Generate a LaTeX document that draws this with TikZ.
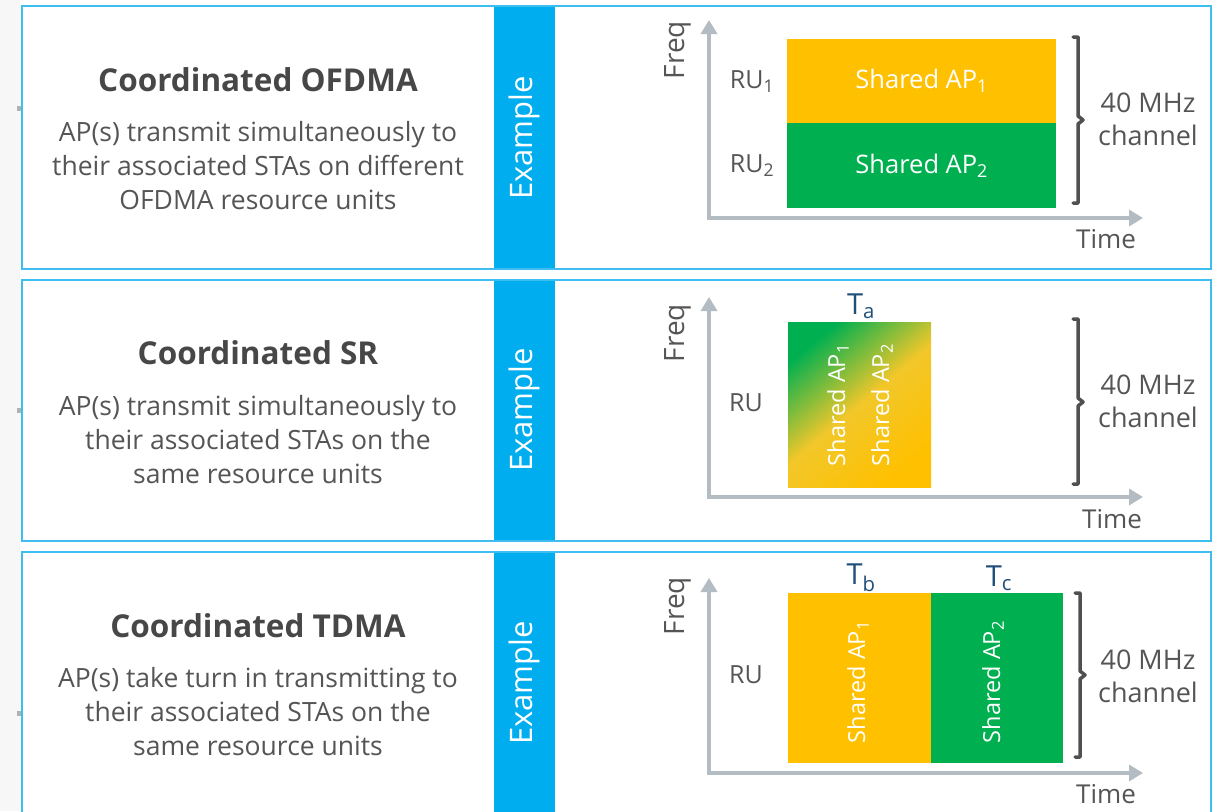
\documentclass[tikz,border=0pt]{standalone}
\usepackage{fontspec}
\setmainfont{Open Sans}
\usetikzlibrary{arrows.meta,shadings}
\definecolor{pblue}{HTML}{3DBDF0}
\definecolor{exblue}{HTML}{00AEEF}
\definecolor{ysh}{HTML}{FFC000}
\definecolor{gsh}{HTML}{00B050}
\definecolor{axgray}{HTML}{B3BCC2}
\definecolor{bracegray}{HTML}{505050}
\definecolor{titlegray}{HTML}{474747}
\definecolor{bodygray}{HTML}{555555}
\definecolor{tblue}{HTML}{1F4E79}
\definecolor{midy}{HTML}{F2C72A}
\tikzset{
  panel/.style={draw=pblue, line width=1.8pt},
  exbar/.style={fill=exblue, draw=none},
  extext/.style={text=white, rotate=90, font=\fontsize{31}{36}\selectfont},
  ttl/.style={text=titlegray, font=\bfseries\fontsize{31.5}{36}\selectfont},
  bodytext/.style={text=bodygray, align=center, font=\fontsize{26.5}{34}\selectfont},
  axisline/.style={draw=axgray, line width=4.5pt, line join=miter,
    {Triangle[length=14pt,width=16pt]}-{Triangle[length=14pt,width=16pt]}},
  lbl/.style={text=bodygray, font=\fontsize{25}{28}\selectfont},
  tmlbl/.style={text=bodygray, font=\fontsize{26}{30}\selectfont},
  bigl/.style={text=bodygray, align=center, font=\fontsize{27}{33}\selectfont},
  flbl/.style={text=bodygray, rotate=90, font=\fontsize{28}{30}\selectfont},
  shbox/.style={draw=none, text=white, inner sep=0pt, anchor=north west, font=\fontsize{25.5}{28}\selectfont},
  vtext/.style={text=white, rotate=90, font=\fontsize{23.5}{26}\selectfont},
  tlbl/.style={text=tblue, font=\fontsize{29}{32}\selectfont},
  bracket/.style={draw=bracegray, line width=3.5pt, line join=round, line cap=round},
  tick/.style={fill=gray!60, draw=none},
}
\begin{document}
\begin{tikzpicture}[x=1pt,y=-1pt]
\useasboundingbox (0,0) rectangle (1220,811);
\clip (0,0) rectangle (1220,811);
\fill[white] (0,0) rectangle (1220,811);
\fill[black!3] (0,0) rectangle (20,811);
% small ticks at left
\fill[tick] (17,106) rectangle (22,111);
\fill[tick] (17,408) rectangle (22,413);
\fill[tick] (17,711) rectangle (22,716);

% ---------- panels ----------
\fill[white] (22,6) rectangle (1211,269);
\fill[white] (22,280) rectangle (1211,541);
\fill[white] (22,552) rectangle (1211,830);
\fill[exbar] (494,7) rectangle (555,268);
\fill[exbar] (494,281) rectangle (555,540);
\fill[exbar] (494,553) rectangle (555,830);
\draw[panel] (22,6) rectangle (1211,269);
\draw[panel] (22,280) rectangle (1211,541);
\draw[panel] (22,552) rectangle (1211,830);

\node[extext] (ex1) at (524,138) {Example};
\node[extext] (ex2) at (524,410) {Example};
\node[extext] (ex3) at (524,683) {Example};

% ---------- panel 1 text ----------
\node[ttl] (t1) at (258,80) {Coordinated OFDMA};
\node[bodytext] (b1) at (258,166) {AP(s) transmit simultaneously to\\their associated STAs on different\\OFDMA resource units};
% ---------- panel 2 text ----------
\node[ttl] (t2) at (258,353) {Coordinated SR};
\node[bodytext] (b2) at (258,440) {AP(s) transmit simultaneously to\\their associated STAs on the\\same resource units};
% ---------- panel 3 text ----------
\node[ttl] (t3) at (258,626) {Coordinated TDMA};
\node[bodytext] (b3) at (258,712) {AP(s) take turn in transmitting to\\their associated STAs on the\\same resource units};

% ---------- chart 1 ----------
\coordinate (yt1) at (709,20);
\coordinate (o1) at (709,218);
\coordinate (xt1) at (1143,218);
\draw[axisline] (yt1) -- (o1) -- (xt1);
\node[flbl] (fq1) at (678,50) {Freq};
\node[shbox, fill=ysh, minimum width=269pt, minimum height=84pt] (a11) at (787,39) {Shared AP\textsubscript{1}};
\node[shbox, fill=gsh, minimum width=269pt, minimum height=85pt] (a12) at (787,123) {Shared AP\textsubscript{2}};
\node[lbl] (ru11) at (752,82) {RU\textsubscript{1}};
\node[lbl] (ru12) at (752,166) {RU\textsubscript{2}};
\draw[bracket] (1073,37) -- (1078,37) -- (1078,116) -- (1083,120) -- (1078,124) -- (1078,203) -- (1073,203);
\node[bigl] (mhz1) at (1148,119) {40 MHz\\channel};
\node[tmlbl] (tm1) at (1106,239) {Time};

% ---------- chart 2 ----------
\coordinate (yt2) at (709,297);
\coordinate (o2) at (709,497);
\coordinate (xt2) at (1143,497);
\draw[axisline] (yt2) -- (o2) -- (xt2);
\node[flbl] (fq2) at (678,333) {Freq};
\shade[top color=gsh, bottom color=ysh, middle color=midy, shading angle=40] (788,322) rectangle (931,487);
\node[draw=none, minimum width=143pt, minimum height=165pt, inner sep=0pt, anchor=north west] (a2) at (788,322) {};
\node[vtext] (a21) at (838,405) {Shared AP\textsubscript{1}};
\node[vtext] (a22) at (882,405) {Shared AP\textsubscript{2}};
\node[tlbl] (ta) at (861,306) {T\textsubscript{a}};
\node[lbl] (ru2) at (746,403) {RU};
\draw[bracket] (1073,319) -- (1078,319) -- (1078,398) -- (1083,402) -- (1078,406) -- (1078,484) -- (1073,484);
\node[bigl] (mhz2) at (1148,401) {40 MHz\\channel};
\node[tmlbl] (tm2) at (1112,519) {Time};

% ---------- chart 3 ----------
\coordinate (yt3) at (709,578);
\coordinate (o3) at (709,773);
\coordinate (xt3) at (1143,773);
\draw[axisline] (yt3) -- (o3) -- (xt3);
\node[flbl] (fq3) at (678,606) {Freq};
\node[shbox, fill=ysh, minimum width=143pt, minimum height=170pt] (a31) at (788,593) {};
\node[shbox, fill=gsh, minimum width=132pt, minimum height=170pt] (a32) at (931,593) {};
\node[vtext] (a31t) at (858,682) {Shared AP\textsubscript{1}};
\node[vtext] (a32t) at (993,682) {Shared AP\textsubscript{2}};
\node[tlbl] (tb) at (861,578) {T\textsubscript{b}};
\node[tlbl] (tc) at (999,578) {T\textsubscript{c}};
\node[lbl] (ru3) at (746,675) {RU};
\draw[bracket] (1075,593) -- (1080,593) -- (1080,671) -- (1085,675) -- (1080,679) -- (1080,757) -- (1075,757);
\node[bigl] (mhz3) at (1148,676) {40 MHz\\channel};
\node[tmlbl] (tm3) at (1106,794) {Time};
\end{tikzpicture}
\end{document}
